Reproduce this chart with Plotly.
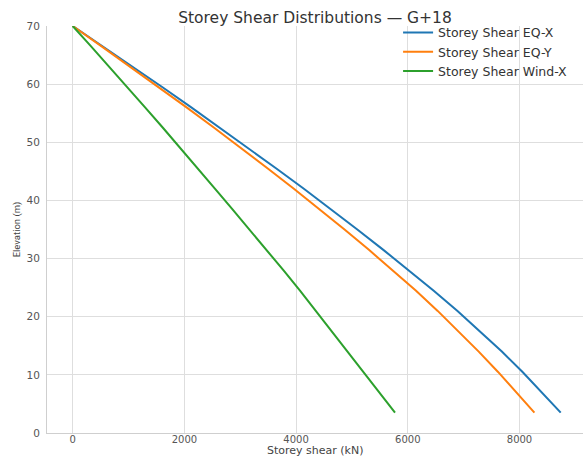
import plotly.graph_objects as go

# Elevations of storey levels (m)
elevation = [3.5, 7, 10.5, 14, 17.5, 21, 24.5, 28, 31.5, 35, 38.5, 42,
             45.5, 49, 52.5, 56, 59.5, 63, 66.5, 70]

# Storey shear (kN)
shear_eq_x = [8738, 8405, 8055, 7684, 7296, 6890, 6459, 6017, 5562, 5096,
              4622, 4139, 3646, 3145, 2638, 2123, 1602, 1073, 539, 0]
shear_eq_y = [8267, 7949, 7616, 7270, 6909, 6535, 6143, 5730, 5304, 4867,
              4419, 3960, 3493, 3017, 2532, 2039, 1538, 1031, 518, 0]
shear_wind_x = [5771, 5490, 5209, 4928, 4645, 4361, 4070, 3772, 3471, 3166,
                2858, 2550, 2242, 1930, 1615, 1296, 977, 655, 329, 0]

series_names = ["Storey Shear EQ-X", "Storey Shear EQ-Y", "Storey Shear Wind-X"]
series_colors = ["#1f77b4", "#ff7f0e", "#2ca02c"]

x_ticks = [0, 2000, 4000, 6000, 8000]
y_ticks = [0, 10, 20, 30, 40, 50, 60, 70]

fig = go.Figure()
for name, vals, col in zip(series_names, [shear_eq_x, shear_eq_y, shear_wind_x], series_colors):
    fig.add_trace(go.Scatter(x=vals, y=elevation, mode="lines", name=name,
                             line=dict(color=col, width=2)))

fig.update_layout(
    width=583, height=456,
    margin=dict(l=47, r=0, t=26, b=23, autoexpand=False),
    paper_bgcolor="white", plot_bgcolor="white",
    font=dict(family="DejaVu Sans", color="#444"),
    title=dict(text="Storey Shear Distributions \u2014 G+18",
               x=0.5, xref="paper", xanchor="center",
               y=1 - 18 / 456, yref="container", yanchor="middle",
               font=dict(size=15.5, color="#333", family="DejaVu Sans")),
    legend=dict(x=0.655, xanchor="left", y=1.02, yanchor="top",
                bgcolor="rgba(0,0,0,0)", borderwidth=0,
                font=dict(size=12.5, color="#333", family="DejaVu Sans"),
                tracegroupgap=0),
    showlegend=True,
    annotations=[dict(text="Storey shear (kN)", xref="paper", yref="paper",
                      x=0.5, y=0, xanchor="center", yanchor="middle",
                      yshift=-17, showarrow=False,
                      font=dict(size=11, color="#444", family="DejaVu Sans"))],
)

fig.update_xaxes(
    range=[-460, 9137], tickvals=x_ticks, ticktext=[str(v) for v in x_ticks],
    showgrid=True, gridcolor="#dedede", gridwidth=1,
    zeroline=False, showline=True, linecolor="#cfcfcf", linewidth=1,
    ticks="", ticklabelstandoff=-3,
    tickfont=dict(size=10, color="#555"),
)
fig.update_yaxes(
    range=[0, 70], tickvals=y_ticks, ticktext=[str(v) for v in y_ticks],
    showgrid=True, gridcolor="#dedede", gridwidth=1,
    zeroline=False, showline=True, linecolor="#cfcfcf", linewidth=1,
    ticks="", ticklabelstandoff=4,
    tickfont=dict(size=10.5, color="#555"),
    title=dict(text="Elevation (m)", standoff=4,
               font=dict(size=9.5, color="#444", family="Liberation Sans Narrow, Roboto")),
)

fig.write_html("out.html", config={"displayModeBar": False},
               post_script="document.body.style.margin='0';")
